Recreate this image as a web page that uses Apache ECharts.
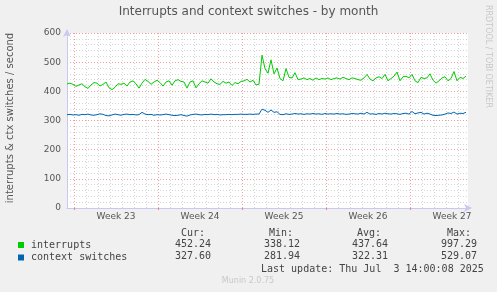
<!DOCTYPE html>
<html>
<head>
<meta charset="utf-8">
<script src="https://cdn.jsdelivr.net/npm/echarts@6/dist/echarts.min.js"></script>
<style>
  html, body { margin: 0; padding: 0; background: #f0f0f0; }
  #chart { width: 497px; height: 292px; }
</style>
</head>
<body>
<div id="chart"></div>
<script>
// time axis in days, 0 = start of week 23; one sample every 6 hours
const startDay = -7 / 12;
const endDay = startDay + 401 / 12;
const stepDay = 0.25;

const weekStarts = [0, 7, 14, 21, 28];
const weekLabels = ['Week 23', 'Week 24', 'Week 25', 'Week 26', 'Week 27'];
const yTicks = [0, 100, 200, 300, 400, 500, 600];

const interrupts = [
  425, 428, 424, 417, 422, 426, 416, 410, 422, 430,
  428, 418, 424, 432, 412, 406, 414, 426, 424, 428,
  418, 432, 436, 426, 411, 428, 441, 434, 424, 432,
  438, 430, 418, 432, 436, 421, 436, 440, 434, 432,
  411, 432, 436, 412, 426, 436, 432, 428, 443, 432,
  426, 424, 434, 428, 432, 420, 430, 426, 434, 436,
  441, 432, 438, 422, 424, 524, 478, 462, 508, 460,
  480, 444, 436, 478, 448, 446, 464, 440, 442, 446,
  440, 444, 438, 446, 440, 444, 442, 446, 440, 444,
  446, 442, 448, 444, 440, 446, 444, 440, 438, 446,
  458, 442, 436, 446, 450, 444, 458, 436, 444, 452,
  466, 436, 450, 452, 446, 458, 436, 430, 448, 444,
  446, 460, 438, 428, 436, 446, 450, 436, 444, 468,
  436, 448, 444, 452
];

const ctxSwitches = [
  320, 321, 319, 320, 318, 321, 320, 322, 319, 318,
  320, 323, 321, 317, 316, 319, 322, 320, 318, 321,
  322, 320, 321, 319, 320, 328, 322, 320, 321, 318,
  320, 319, 320, 322, 320, 318, 317, 318, 320, 317,
  315, 319, 321, 322, 320, 319, 321, 320, 322, 320,
  321, 319, 320, 320, 321, 320, 321, 321, 322, 321,
  321, 322, 321, 322, 322, 339, 335, 328, 336, 328,
  330, 321, 320, 323, 321, 322, 324, 322, 323, 321,
  323, 322, 324, 322, 323, 321, 324, 322, 323, 322,
  324, 322, 323, 321, 322, 324, 323, 322, 325, 322,
  328, 322, 323, 321, 324, 322, 325, 323, 322, 324,
  323, 321, 324, 325, 322, 331, 323, 326, 328, 322,
  325, 322, 318, 317, 318, 319, 322, 326, 324, 329,
  322, 325, 324, 328
];

const legendNames = ['interrupts', 'context switches'];
const statHeads = ['Cur:', 'Min:', 'Avg:', 'Max:'];
const interruptStats = ['452.24', '338.12', '437.64', '997.29'];
const ctxStats = ['327.60', '281.94', '322.31', '529.07'];

const toPairs = arr => arr.map((v, i) => [startDay + i * stepDay, v]);

const dayLines = [];
for (let d = 1; d < 33; d++) if (d % 7 !== 0) dayLines.push(d);

const mono = 'DejaVu Sans Mono';
const sans = 'DejaVu Sans';
const headX = [181, 269, 357, 447];
const valX = [175, 264, 352, 441];

const graphics = [
  { type: 'text', left: 'center', top: 6,
    style: { text: 'Interrupts and context switches - by month', font: '12px ' + sans, fill: '#555' } },
  { type: 'text', x: 10.5, y: 118, rotation: Math.PI / 2,
    style: { text: 'interrupts & ctx switches / second', font: '10px ' + sans, fill: '#555',
      align: 'center', verticalAlign: 'middle' } },
  { type: 'text', x: 488, y: 5, rotation: -Math.PI / 2,
    style: { text: 'RRDTOOL / TOBI OETIKER', font: '8px ' + sans, fill: '#c8c8c8',
      align: 'left', verticalAlign: 'middle' } },
  { type: 'text', x: 261, y: 269,
    style: { text: 'Last update: Thu Jul  3 14:00:08 2025', font: '10px ' + mono, fill: '#444',
      verticalAlign: 'middle' } },
  { type: 'text', x: 248, y: 281,
    style: { text: 'Munin 2.0.75', font: '8px ' + sans, fill: '#c8c8c8',
      align: 'center', verticalAlign: 'middle' } }
];
statHeads.forEach((h, i) => {
  graphics.push({ type: 'text', x: headX[i], y: 233,
    style: { text: h, font: '10px ' + mono, fill: '#444', verticalAlign: 'middle' } });
  graphics.push({ type: 'text', x: valX[i], y: 244,
    style: { text: interruptStats[i], font: '10px ' + mono, fill: '#444', verticalAlign: 'middle' } });
  graphics.push({ type: 'text', x: valX[i], y: 256.5,
    style: { text: ctxStats[i], font: '10px ' + mono, fill: '#444', verticalAlign: 'middle' } });
});

const axisColor = '#c8c8f0';

const option = {
  animation: false,
  backgroundColor: '#f0f0f0',
  grid: {
    left: 67, top: 33, right: 29, bottom: 84,
    show: true, backgroundColor: '#ffffff', borderWidth: 0
  },
  legend: {
    data: legendNames,
    orient: 'vertical',
    left: 13, top: 234,
    icon: 'rect',
    itemWidth: 6, itemHeight: 6, itemGap: 0.5,
    textStyle: { fontFamily: mono, fontSize: 10, color: '#444', lineHeight: 12, padding: [0, 0, 0, 2] }
  },
  xAxis: [
    {
      type: 'value', min: startDay, max: endDay, position: 'bottom',
      axisLine: { show: true, onZero: false, lineStyle: { color: axisColor },
        symbol: ['none', 'arrow'], symbolSize: [6, 8], symbolOffset: [0, 4] },
      axisTick: { show: true, length: 2, customValues: weekStarts,
        lineStyle: { color: '#f08080' } },
      axisLabel: {
        customValues: weekStarts.map(w => w + 3.5),
        formatter: v => weekLabels[Math.round((v - 3.5) / 7)],
        fontFamily: sans, fontSize: 9, color: '#555', margin: 4
      },
      splitLine: { show: true, lineStyle: { color: '#eda0a0', type: [1, 2], width: 1 } },
      z: 3
    },
    {
      type: 'value', min: startDay, max: endDay, position: 'bottom',
      axisLine: { show: false, onZero: false },
      axisTick: { show: false, customValues: dayLines },
      axisLabel: { show: false },
      splitLine: { show: true, lineStyle: { color: '#d6d6d6', type: [1, 2], width: 1 } }
    }
  ],
  yAxis: {
    type: 'value', min: 0, max: 600, interval: 100,
    axisLine: { show: true, onZero: false, lineStyle: { color: axisColor },
      symbol: ['none', 'arrow'], symbolSize: [6, 8], symbolOffset: [0, 4] },
    axisTick: { show: false },
    axisLabel: {
      formatter: v => (yTicks.indexOf(v) >= 0 ? String(v) : ''),
      fontFamily: sans, fontSize: 9, color: '#555', margin: 6
    },
    splitLine: { show: true, lineStyle: { color: '#eda0a0', type: [1, 2], width: 1 } },
    minorTick: { show: false, splitNumber: 5 },
    minorSplitLine: { show: true, lineStyle: { color: '#d6d6d6', type: [1, 2], width: 1 } }
  },
  series: [
    {
      name: legendNames[0], type: 'line', xAxisIndex: 0,
      data: toPairs(interrupts), showSymbol: false, symbol: 'none',
      lineStyle: { color: '#00cc00', width: 1 }, itemStyle: { color: '#00cc00' }, z: 5
    },
    {
      name: legendNames[1], type: 'line', xAxisIndex: 0,
      data: toPairs(ctxSwitches), showSymbol: false, symbol: 'none',
      lineStyle: { color: '#0066b3', width: 1 }, itemStyle: { color: '#0066b3' }, z: 5
    }
  ],
  graphic: graphics
};

const chart = echarts.init(document.getElementById('chart'), null, { renderer: 'canvas' });
chart.setOption(option);
</script>
</body>
</html>
